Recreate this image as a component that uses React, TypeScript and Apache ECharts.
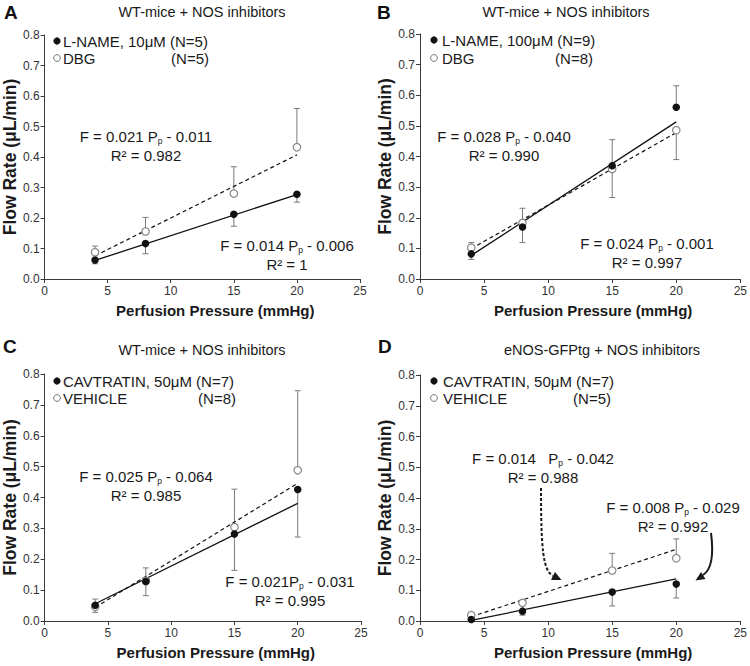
import React, { useEffect, useRef } from "react";
import * as echarts from "echarts";

// ---------------- DATA ----------------
const pressures = [4, 8, 15, 20];
const fitX = [4, 20];

// Panel A : L-NAME 10µM (filled) vs DBG (open)
const aFilledMean = [0.062, 0.116, 0.212, 0.278];
const aFilledErrDown = [0.012, 0.033, 0.039, 0.026];
const aFilledErrUp = [0, 0, 0, 0];
const aOpenMean = [0.088, 0.156, 0.28, 0.432];
const aOpenErrDown = [0, 0, 0, 0];
const aOpenErrUp = [0.02, 0.046, 0.088, 0.127];
const aFitSolid = [0.061, 0.277];
const aFitDashed = [0.076, 0.407];

// Panel B : L-NAME 100µM (filled) vs DBG (open)
const bFilledMean = [0.082, 0.17, 0.37, 0.561];
const bFilledErrDown = [0.018, 0, 0, 0];
const bFilledErrUp = [0, 0.061, 0.085, 0.07];
const bOpenMean = [0.102, 0.183, 0.359, 0.486];
const bOpenErrDown = [0, 0.064, 0.093, 0.096];
const bOpenErrUp = [0.017, 0, 0, 0];
const bFitSolid = [0.077, 0.513];
const bFitDashed = [0.099, 0.478];

// Panel C : CAVTRATIN 50µM (filled) vs VEHICLE (open)
const cFilledMean = [0.051, 0.128, 0.282, 0.426];
const cFilledErrDown = [0.023, 0.046, 0.118, 0.154];
const cFilledErrUp = [0, 0, 0, 0];
const cOpenMean = [0.046, 0.13, 0.304, 0.488];
const cOpenErrDown = [0, 0, 0, 0];
const cOpenErrUp = [0.025, 0.042, 0.123, 0.258];
const cFitSolid = [0.056, 0.381];
const cFitDashed = [0.044, 0.446];

// Panel D : eNOS-GFPtg, CAVTRATIN 50µM (filled) vs VEHICLE (open)
const dFilledMean = [0.005, 0.032, 0.094, 0.12];
const dFilledErrDown = [0.004, 0.013, 0.045, 0.045];
const dFilledErrUp = [0, 0, 0, 0];
const dOpenMean = [0.019, 0.059, 0.164, 0.204];
const dOpenErrDown = [0, 0, 0, 0];
const dOpenErrUp = [0.007, 0, 0.056, 0.063];
const dFitSolid = [0.002, 0.137];
const dFitDashed = [0.014, 0.233];

const panelLetters = ["A", "B", "C", "D"];
const panelTitles = [
  "WT-mice + NOS inhibitors",
  "WT-mice + NOS inhibitors",
  "WT-mice + NOS inhibitors",
  "eNOS-GFPtg + NOS inhibitors",
];
const filledLabels = ["L-NAME, 10μM", "L-NAME, 100μM", "CAVTRATIN, 50μM", "CAVTRATIN, 50μM"];
const filledN = ["(N=5)", "(N=9)", "(N=7)", "(N=7)"];
const openLabels = ["DBG", "DBG", "VEHICLE", "VEHICLE"];
const openN = ["(N=5)", "(N=8)", "(N=8)", "(N=5)"];
// equations: [before subscript, after subscript, R²]
const upperEq = [
  ["F = 0.021 P", " - 0.011", "R² = 0.982"],
  ["F = 0.028 P", " - 0.040", "R² = 0.990"],
  ["F = 0.025 P", " - 0.064", "R² = 0.985"],
  ["F = 0.014   P", " - 0.042", "R² = 0.988"],
];
const lowerEq = [
  ["F = 0.014 P", " - 0.006", "R² = 1"],
  ["F = 0.024 P", " - 0.001", "R² = 0.997"],
  ["F = 0.021P", " - 0.031", "R² = 0.995"],
  ["F = 0.008 P", " - 0.029", "R² = 0.992"],
];
const xAxisTitle = "Perfusion Pressure (mmHg)";
const yAxisTitle = "Flow Rate (μL/min)";

// ---------------- LAYOUT ----------------
const FONT = "'Liberation Sans', Arial, Helvetica, sans-serif";
const TXT = "#1a1a1a";
const grids = [
  { left: 42, top: 35, width: 318, height: 244 },
  { left: 420, top: 34, width: 321, height: 245 },
  { left: 42, top: 374, width: 319, height: 247 },
  { left: 420, top: 375, width: 321, height: 246 },
];
const titlePos = [[202, 12], [566, 12], [202, 350], [602, 350]];
const letterPos = [[4, 12], [377, 12], [3, 346], [378, 346]];
const legendPos = [
  { cx: 57, tx: 63, nx: 209, y1: 41, y2: 58 },
  { cx: 434, tx: 442, nx: 593, y1: 40, y2: 58 },
  { cx: 57, tx: 63, nx: 236, y1: 381, y2: 398 },
  { cx: 434, tx: 443, nx: 611, y1: 381, y2: 398 },
];
const upperEqPos = [[146, 146], [504, 146], [146, 486], [543, 468]];
const lowerEqPos = [[287, 255], [647, 253], [290, 591], [673, 517]];

const panels = [
  { fm: aFilledMean, fd: aFilledErrDown, fu: aFilledErrUp, om: aOpenMean, od: aOpenErrDown, ou: aOpenErrUp, fs: aFitSolid, fdsh: aFitDashed },
  { fm: bFilledMean, fd: bFilledErrDown, fu: bFilledErrUp, om: bOpenMean, od: bOpenErrDown, ou: bOpenErrUp, fs: bFitSolid, fdsh: bFitDashed },
  { fm: cFilledMean, fd: cFilledErrDown, fu: cFilledErrUp, om: cOpenMean, od: cOpenErrDown, ou: cOpenErrUp, fs: cFitSolid, fdsh: cFitDashed },
  { fm: dFilledMean, fd: dFilledErrDown, fu: dFilledErrUp, om: dOpenMean, od: dOpenErrDown, ou: dOpenErrUp, fs: dFitSolid, fdsh: dFitDashed },
];

function errData(mean: number[], down: number[], up: number[]) {
  const out: number[][] = [];
  pressures.forEach((x, i) => {
    if (down[i] > 0) out.push([x, mean[i] - down[i], mean[i]]);
    if (up[i] > 0) out.push([x, mean[i], mean[i] + up[i]]);
  });
  return out;
}

const renderErr = (params: any, api: any) => {
  const x = api.value(0);
  const p1 = api.coord([x, api.value(1)]);
  const p2 = api.coord([x, api.value(2)]);
  const w = 3;
  const st = { stroke: "#7a7a7a", lineWidth: 1 };
  return {
    type: "group",
    children: [
      { type: "line", shape: { x1: p1[0], y1: p1[1], x2: p2[0], y2: p2[1] }, style: st },
      { type: "line", shape: { x1: p1[0] - w, y1: p1[1], x2: p1[0] + w, y2: p1[1] }, style: st },
      { type: "line", shape: { x1: p2[0] - w, y1: p2[1], x2: p2[0] + w, y2: p2[1] }, style: st },
    ],
  };
};

function eqText(x: number, y: number, eq: string[]) {
  return {
    type: "text",
    x,
    y,
    z: 50,
    style: {
      text: `{a|${eq[0]}}{s|p}{a|${eq[1]}}\n{a|${eq[2]}}`,
      align: "center",
      verticalAlign: "middle",
      fill: TXT,
      rich: {
        a: { fontSize: 15, lineHeight: 19, fontFamily: FONT, fill: TXT, color: TXT },
        s: { fontSize: 8.5, lineHeight: 4, padding: [9, 0, 0, 0], fontFamily: FONT, fill: TXT, color: TXT },
      },
    },
  };
}

function buildOption() {
  const xAxis: any[] = [];
  const yAxis: any[] = [];
  const series: any[] = [];
  const graphic: any[] = [];
  const axisLine = { show: true, lineStyle: { color: "#3a3a3a", width: 1 } };
  const axisTick = { show: true, inside: false, length: 4, lineStyle: { color: "#3a3a3a" } };

  panels.forEach((p, i) => {
    xAxis.push({
      type: "value",
      gridIndex: i,
      min: 0,
      max: 25,
      interval: 5,
      axisLine,
      axisTick,
      splitLine: { show: false },
      axisLabel: { fontSize: 12, color: "#333", fontFamily: FONT, margin: 6 },
      name: xAxisTitle,
      nameLocation: "middle",
      nameGap: 24,
      nameTextStyle: { fontSize: 15, fontWeight: "bold", color: TXT, fontFamily: FONT, padding: [0, 0, 0, 26] },
    });
    yAxis.push({
      type: "value",
      gridIndex: i,
      min: 0,
      max: 0.8,
      interval: 0.1,
      axisLine,
      axisTick,
      splitLine: { show: false },
      axisLabel: {
        fontSize: 12,
        color: "#333",
        fontFamily: FONT,
        margin: 5,
        formatter: (v: number) => v.toFixed(1),
      },
      name: yAxisTitle,
      nameLocation: "middle",
      nameGap: 23,
      nameTextStyle: { fontSize: 17.5, fontWeight: "bold", color: TXT, fontFamily: FONT },
    });

    series.push({
      type: "custom",
      xAxisIndex: i,
      yAxisIndex: i,
      silent: true,
      z: 1,
      renderItem: renderErr,
      encode: { x: 0, y: [1, 2] },
      data: errData(p.fm, p.fd, p.fu).concat(errData(p.om, p.od, p.ou)),
    });
    series.push({
      type: "line",
      xAxisIndex: i,
      yAxisIndex: i,
      z: 2,
      symbol: "none",
      silent: true,
      lineStyle: { color: "#111", width: 1.3 },
      data: fitX.map((x, k) => [x, p.fs[k]]),
    });
    series.push({
      type: "line",
      xAxisIndex: i,
      yAxisIndex: i,
      z: 2,
      symbol: "none",
      silent: true,
      lineStyle: { color: "#111", width: 1.2, type: [4, 3] },
      data: fitX.map((x, k) => [x, p.fdsh[k]]),
    });
    series.push({
      type: "scatter",
      xAxisIndex: i,
      yAxisIndex: i,
      z: 3,
      symbol: "circle",
      symbolSize: 7.5,
      itemStyle: { color: "#ffffff", borderColor: "#888", borderWidth: 1.2, opacity: 1 },
      data: pressures.map((x, k) => [x, p.om[k]]),
    });
    series.push({
      type: "scatter",
      xAxisIndex: i,
      yAxisIndex: i,
      z: 4,
      symbol: "circle",
      symbolSize: 7.5,
      itemStyle: { color: "#111", opacity: 1 },
      data: pressures.map((x, k) => [x, p.fm[k]]),
    });

    // titles / letters
    graphic.push({
      type: "text",
      x: titlePos[i][0],
      y: titlePos[i][1],
      style: { text: panelTitles[i], fontSize: 14.5, fontFamily: FONT, fill: TXT, align: "center", verticalAlign: "middle" },
    });
    graphic.push({
      type: "text",
      x: letterPos[i][0],
      y: letterPos[i][1],
      style: { text: panelLetters[i], fontSize: 19, fontWeight: "bold", fontFamily: FONT, fill: "#111", align: "left", verticalAlign: "middle" },
    });
    // legend
    const L = legendPos[i];
    graphic.push({ type: "circle", shape: { cx: L.cx, cy: L.y1, r: 3.6 }, style: { fill: "#111" } });
    graphic.push({ type: "circle", shape: { cx: L.cx, cy: L.y2, r: 3.4 }, style: { fill: "#fff", stroke: "#777", lineWidth: 1 } });
    const legStyle = { fontSize: 15, fontFamily: FONT, fill: TXT, verticalAlign: "middle" };
    graphic.push({ type: "text", x: L.tx, y: L.y1, style: { ...legStyle, text: filledLabels[i] + " " + filledN[i], align: "left" } });
    graphic.push({ type: "text", x: L.tx, y: L.y2, style: { ...legStyle, text: openLabels[i], align: "left" } });
    graphic.push({ type: "text", x: L.nx, y: L.y2, style: { ...legStyle, text: openN[i], align: "right" } });
    // equations
    graphic.push(eqText(upperEqPos[i][0], upperEqPos[i][1], upperEq[i]));
    graphic.push(eqText(lowerEqPos[i][0], lowerEqPos[i][1], lowerEq[i]));
  });

  // curved arrows in panel D
  graphic.push({
    type: "bezierCurve",
    shape: { x1: 541, y1: 488, cpx1: 541, cpy1: 550, cpx2: 543, cpy2: 570, x2: 553, y2: 576 },
    style: { stroke: "#1a1a1a", lineWidth: 2, lineDash: [3, 2], fill: null },
  });
  graphic.push({
    type: "polygon",
    shape: { points: [[561.5, 580], [551, 580], [555, 572]] },
    style: { fill: "#1a1a1a" },
  });
  graphic.push({
    type: "bezierCurve",
    shape: { x1: 711, y1: 533, cpx1: 714, cpy1: 556, cpx2: 711, cpy2: 570, x2: 703, y2: 575 },
    style: { stroke: "#1a1a1a", lineWidth: 2, fill: null },
  });
  graphic.push({
    type: "polygon",
    shape: { points: [[695.5, 580.5], [705.5, 579], [701, 572]] },
    style: { fill: "#1a1a1a" },
  });

  return {
    animation: false,
    backgroundColor: "#ffffff",
    grid: grids.map((g) => ({ ...g, containLabel: false })),
    xAxis,
    yAxis,
    series,
    graphic,
  };
}

export default function App() {
  const ref = useRef<HTMLDivElement>(null);
  useEffect(() => {
    if (!ref.current) return;
    const chart = echarts.init(ref.current, undefined, { renderer: "svg" });
    chart.setOption(buildOption() as any);
    return () => chart.dispose();
  }, []);
  return (
    <div
      ref={ref}
      style={{ position: "absolute", left: 0, top: 0, width: 750, height: 666, background: "#fff" }}
    />
  );
}
